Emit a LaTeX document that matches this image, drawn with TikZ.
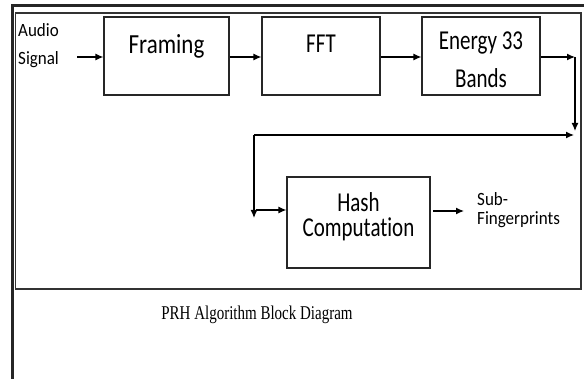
\documentclass[tikz,border=0pt]{standalone}
\usepackage{fontspec}
\setmainfont{Carlito}[Ligatures=NoCommon]
\newfontfamily\capfont{Liberation Serif}
\usetikzlibrary{arrows.meta}
\newcommand{\vst}[2]{\scalebox{1}[#1]{#2}}
\begin{document}
\begin{tikzpicture}[x=1pt,y=-1pt,
  blockbox/.style={draw=black!85,line width=1.2pt,minimum width=#1,inner sep=0pt},
  arr/.style={line width=1.2pt,-{Latex[length=8pt,width=7pt]}},
  lbl/.style={inner sep=0pt,font=\fontsize{17}{20}\selectfont,align=left},
  btxt/.style={inner sep=0pt,font=\fontsize{21}{25}\selectfont}]
\path[fill=white,use as bounding box] (0,0) rectangle (584,379);
% frames
\draw[line width=3pt,black!85] (12,379) -- (12,6) -- (584,6);
\draw[line width=1.2pt,black!80] (15.5,13) rectangle (581,289);
% boxes
\node[blockbox=125pt,minimum height=78pt] (framing) at (166.5,56) {};
\node[blockbox=118pt,minimum height=78pt] (fft) at (321,56) {};
\node[blockbox=118pt,minimum height=78pt] (energy) at (481,56) {};
\node[blockbox=143pt,minimum height=91pt] (hash) at (358.5,222.5) {};
% texts
\node[btxt,font=\fontsize{23}{28}\selectfont] (tframing) at (166.5,46) {\vst{1.2}{Framing}};
\node[btxt] (tfft) at (321,44) {\vst{1.3}{FFT}};
\node[btxt] (tenergy1) at (481,43) {\vst{1.3}{Energy 33}};
\node[btxt] (tenergy2) at (481,78) {\vst{1.3}{Bands}};
\node[btxt] (thash1) at (358.5,202) {\vst{1.3}{Hash}};
\node[btxt] (thash2) at (358.5,229) {\vst{1.3}{Computation}};
\node[lbl,anchor=west] (audio1) at (18,30) {\vst{1.1}{Audio}};
\node[lbl,anchor=west] (audio2) at (18,60) {\vst{1.1}{Signal}};
\node[lbl,anchor=west] (sub1) at (477,199) {\vst{1.1}{Sub-}};
\node[lbl,anchor=west] (sub2) at (477,220) {\vst{1.1}{Fingerprints}};
\node[inner sep=0pt,font=\capfont\fontsize{15}{18}\selectfont] (caption) at (257,315) {\vst{1.3}{PRH Algorithm Block Diagram}};
% coordinates
\coordinate (a0) at (77,57);
\coordinate (c1) at (575,57);
\coordinate (c2) at (575,131);
\coordinate (c3) at (254,135);
\coordinate (c3e) at (574,135);
\coordinate (c4) at (254,218);
\coordinate (c5) at (256,210);
\coordinate (h0) at (433,211);
\coordinate (h1) at (464,211);
% connectors
\draw[arr] (a0) -- (a0 -| framing.west);
\draw[arr] (framing.east |- a0) -- (fft.west |- a0);
\draw[arr] (fft.east |- a0) -- (energy.west |- a0);
\draw[arr] (energy.east |- a0) -- (c1);
\draw[arr] (c1) -- (c2);
\draw[arr] (c3) -- (c3e);
\draw[arr] (c3) -- (c4);
\draw[arr] (c5) -- (c5 -| hash.west);
\draw[arr] (h0) -- (h1);
\end{tikzpicture}
\end{document}
